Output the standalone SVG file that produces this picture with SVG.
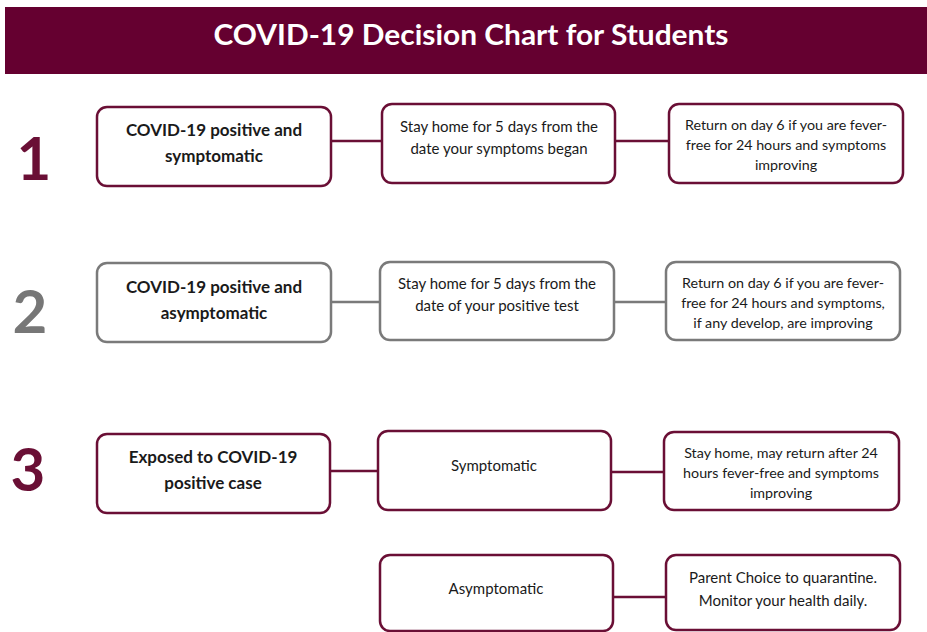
<svg xmlns="http://www.w3.org/2000/svg" width="927" height="632" viewBox="0 0 927 632">
<style>
.box{fill:#fff;stroke:#6a0f35;stroke-width:2.5}
.gbox{fill:#fff;stroke:#7a7a7a;stroke-width:2.5}
.ln{stroke:#6a0f35;stroke-width:2.5;fill:none}
.gln{stroke:#7a7a7a;stroke-width:2.5;fill:none}
text{font-family:Lato,"Open Sans","Liberation Sans",sans-serif;text-anchor:middle;fill:#1a1a1a}
.b{font-weight:bold;font-size:17px}
.n{font-size:15px}
.s{font-size:14.3px}
.num{font-weight:bold;font-size:60px;fill:#6a0f35}
</style>
<rect x="5" y="7" width="922" height="67" fill="#650030"/>
<text x="471" y="45" style="font-weight:bold;font-size:28px;fill:#fff" textLength="515" lengthAdjust="spacingAndGlyphs">COVID-19 Decision Chart for Students</text>
<g id="connectors">
<line class="ln" x1="331" y1="141" x2="382" y2="141"/>
<line class="ln" x1="615" y1="141" x2="669" y2="141"/>
<line class="gln" x1="331" y1="302" x2="380" y2="302"/>
<line class="gln" x1="614" y1="302" x2="666" y2="302"/>
<line class="ln" x1="330" y1="471" x2="378" y2="471"/>
<line class="ln" x1="611" y1="472" x2="664" y2="472"/>
<line class="ln" x1="613" y1="597" x2="666" y2="597"/>
</g>
<g id="num1"><text class="num" x="34" y="180">1</text></g>
<g id="num2"><text class="num" x="30" y="333" style="fill:#777">2</text></g>
<g id="num3"><text class="num" x="28" y="491">3</text></g>
<g id="r1a"><rect class="box" x="97" y="107" width="234" height="79" rx="10"/><text class="b" x="214" y="136">COVID-19 positive and</text><text class="b" x="214" y="162">symptomatic</text></g>
<g id="r1b"><rect class="box" x="382" y="104" width="233" height="79" rx="10"/><text class="n" x="499" y="132">Stay home for 5 days from the</text><text class="n" x="499" y="154">date your symptoms began</text></g>
<g id="r1c"><rect class="box" x="669" y="104" width="234" height="79" rx="10"/><text class="s" x="786" y="130">Return on day 6 if you are fever-</text><text class="s" x="786" y="150">free for 24 hours and symptoms</text><text class="s" x="786" y="170">improving</text></g>
<g id="r2a"><rect class="gbox" x="97" y="263" width="234" height="79" rx="10"/><text class="b" x="214" y="293">COVID-19 positive and</text><text class="b" x="214" y="319">asymptomatic</text></g>
<g id="r2b"><rect class="gbox" x="380" y="262" width="234" height="78" rx="10"/><text class="n" x="497" y="289">Stay home for 5 days from the</text><text class="n" x="497" y="311">date of your positive test</text></g>
<g id="r2c"><rect class="gbox" x="666" y="262" width="234" height="78" rx="10"/><text class="s" x="783" y="288">Return on day 6 if you are fever-</text><text class="s" x="783" y="308">free for 24 hours and symptoms,</text><text class="s" x="783" y="328">if any develop, are improving</text></g>
<g id="r3a"><rect class="box" x="97" y="434" width="233" height="79" rx="10"/><text class="b" x="213" y="463">Exposed to COVID-19</text><text class="b" x="213" y="489">positive case</text></g>
<g id="r3b"><rect class="box" x="378" y="431" width="233" height="79" rx="10"/><text class="n" x="494" y="471">Symptomatic</text></g>
<g id="r3c"><rect class="box" x="664" y="432" width="235" height="78" rx="10"/><text class="s" x="781" y="458">Stay home, may return after 24</text><text class="s" x="781" y="478">hours fever-free and symptoms</text><text class="s" x="781" y="498">improving</text></g>
<g id="r4b"><rect class="box" x="380" y="555" width="233" height="76" rx="10"/><text class="n" x="496" y="594">Asymptomatic</text></g>
<g id="r4c"><rect class="box" x="666" y="555" width="234" height="75" rx="10"/><text class="n" x="783" y="583">Parent Choice to quarantine.</text><text class="n" x="783" y="606">Monitor your health daily.</text></g>
</svg>
